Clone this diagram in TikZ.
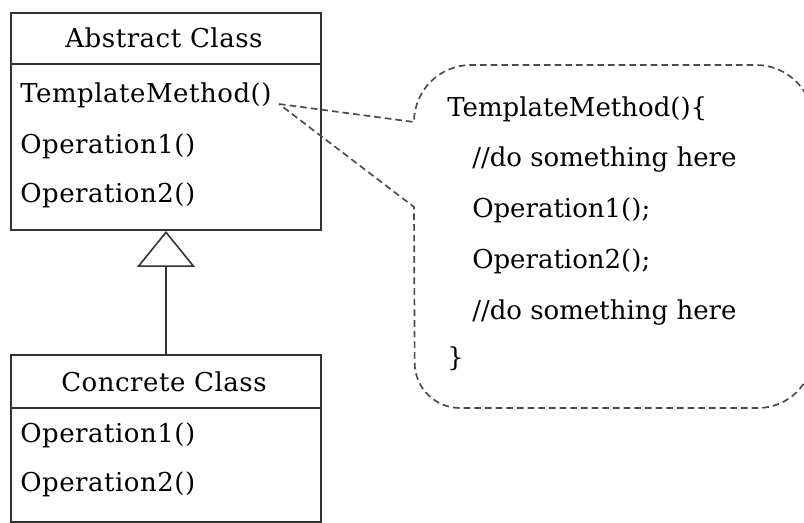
\documentclass[tikz,border=0pt]{standalone}
\usepackage{fontspec}
\setmainfont{DejaVu Serif}
\newfontfamily\boxfont[LetterSpace=2]{DejaVu Serif}
\usetikzlibrary{arrows.meta}
\definecolor{linec}{HTML}{333333}
\definecolor{dashc}{HTML}{4A4A4A}
\tikzset{
  boxline/.style={draw=linec, line width=1.5pt},
  classbox/.style={boxline, rectangle, inner sep=0pt, minimum width=232.5pt},
  txt/.style={inner sep=0pt, font=\fontsize{19.5}{23}\selectfont, text=black},
  boxtxt/.style={inner sep=0pt, font=\boxfont\fontsize{19.5}{23}\selectfont, text=black},
  calloutline/.style={draw=dashc, line width=1.25pt, dash pattern=on 5pt off 3pt},
}
\begin{document}
\begin{tikzpicture}[x=0.75pt,y=0.75pt]
\useasboundingbox (0,0) rectangle (804,-523);
% Abstract class
\node[classbox, minimum height=162.75pt] (abs) at (166,-121.5) {};
\draw[boxline] (abs.west |- 0,-64) -- (abs.east |- 0,-64);
\node[boxtxt, anchor=base] (absT) at (164,-48) {Abstract Class};
\node[boxtxt, anchor=base west] (tm) at (20,-103) {TemplateMethod()};
\node[boxtxt, anchor=base west] (aop1) at (20,-154) {Operation1()};
\node[boxtxt, anchor=base west] (aop2) at (20,-203) {Operation2()};
% Concrete class
\node[classbox, minimum height=125.25pt] (con) at (166,-438.5) {};
\draw[boxline] (con.west |- 0,-408) -- (con.east |- 0,-408);
\node[boxtxt, anchor=base] (conT) at (164,-392) {Concrete Class};
\node[boxtxt, anchor=base west] (cop1) at (20,-443) {Operation1()};
\node[boxtxt, anchor=base west] (cop2) at (20,-492) {Operation2()};
% Inheritance
\draw[boxline, -{Triangle[open, length=27pt, width=43.5pt, line width=1.2pt]}] (con.north) -- (abs.south);
% Callout
\coordinate (tip) at (279,-104);
\draw[calloutline] (tip) -- (414,-122)
  arc[start angle=180, end angle=90, radius=42.75pt] -- (756,-65)
  arc[start angle=90, end angle=0, radius=42.75pt] -- (813,-353)
  arc[start angle=0, end angle=-90, radius=41.25pt] -- (460,-408)
  arc[start angle=270, end angle=180, radius=34pt] -- (414,-207) -- cycle;
\node[txt, anchor=base west] (b1) at (447,-117) {TemplateMethod()\{};
\node[txt, anchor=base west] (b2) at (472,-167) {//do something here};
\node[txt, anchor=base west] (b3) at (472,-218) {Operation1();};
\node[txt, anchor=base west] (b4) at (472,-269) {Operation2();};
\node[txt, anchor=base west] (b5) at (472,-320) {//do something here};
\node[txt, anchor=base west] (b6) at (447,-367) {\}};
\end{tikzpicture}
\end{document}
